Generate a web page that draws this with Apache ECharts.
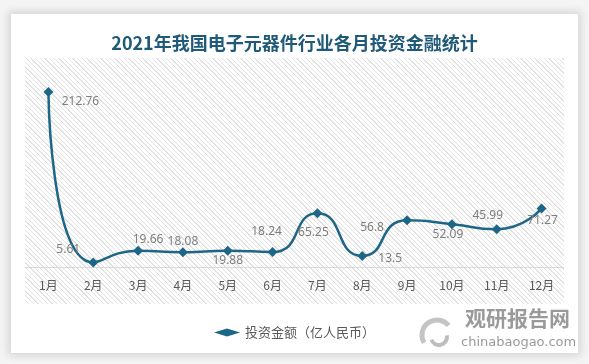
<!DOCTYPE html>
<html><head><meta charset="utf-8">
<script src="https://cdn.jsdelivr.net/npm/echarts@6/dist/echarts.min.js"></script>
<style>
html,body{margin:0;padding:0;background:#fff;}
#wrap{position:relative;width:589px;height:364px;overflow:hidden;background:#f4f4f4;}
#card{position:absolute;left:11px;top:14px;width:567px;height:339px;background:#fff;box-shadow:0 0 8px 3px rgba(0,0,0,0.12);}
#hatch{position:absolute;left:25px;top:58px;width:539px;height:246px;
background:repeating-linear-gradient(45deg,#ffffff 0px,#ffffff 2.4px,#e2e2e2 2.4px,#e2e2e2 3.3px);}
#chart{position:absolute;left:0;top:0;width:589px;height:364px;}
</style></head>
<body><div id="wrap"><div id="card"></div><div id="hatch"></div><div id="chart"></div></div>
<script>
var categories=['1月','2月','3月','4月','5月','6月','7月','8月','9月','10月','11月','12月'];
var values=[212.76,5.61,19.66,18.08,19.88,18.24,65.25,13.5,56.8,52.09,45.99,71.27];
var labelOffsets=[[32,10],[-25,-13],[10,-11],[0,-11],[0,10],[-6,-20],[-4,19],[28,3],[-35,7],[-4,10],[-9,-14],[1,12]];
var seriesName='投资金额（亿人民币）';
var titleText='2021年我国电子元器件行业各月投资金融统计';

var data=values.map(function(v,i){
  return {value:v,label:{offset:labelOffsets[i]}};
});
var chart=echarts.init(document.getElementById('chart'),null,{renderer:'canvas'});
chart.setOption({
  animation:false,
  backgroundColor:'transparent',
  title:{text:titleText,left:'center',top:29,textStyle:{fontFamily:'Noto Sans CJK SC',fontSize:18,fontWeight:'bold',color:'#1f5a78'}},
  grid:{left:26,right:25,top:61.4,bottom:97},
  legend:{bottom:20,left:'center',itemWidth:26,itemHeight:8,
    textStyle:{fontFamily:'Noto Sans CJK SC',fontSize:13,color:'#595959'},
    data:[{name:seriesName,icon:'diamond'}]},
  xAxis:{type:'category',data:categories,boundaryGap:true,
    axisLine:{lineStyle:{color:'#d9d9d9',width:1}},axisTick:{show:false},
    axisLabel:{color:'#595959',fontSize:12,margin:12,fontFamily:'Noto Sans CJK SC'}},
  yAxis:{type:'value',min:0,max:250,show:false,splitLine:{show:false}},
  series:[{name:seriesName,type:'line',smooth:0.6,data:data,
    symbol:'diamond',symbolSize:10,
    lineStyle:{color:'#1d6687',width:2.5},
    itemStyle:{color:'#1d6687'},
    label:{show:true,position:'inside',color:'#7f7f7f',fontSize:12,fontFamily:'Noto Sans'}
  }],
  graphic:[
    {type:'arc',shape:{cx:437,cy:335,r:15,startAngle:2.6,endAngle:5.6},style:{stroke:'#c4c4c4',lineWidth:5,fill:null}},
    {type:'arc',shape:{cx:439,cy:337,r:8,startAngle:-0.2,endAngle:2.8},style:{stroke:'#bdbdbd',lineWidth:4,fill:null}},
    {type:'text',left:465,top:308,style:{text:'观研报告网',font:'bold 21px "Noto Sans CJK SC"',fill:'#9a9a9a'}},
    {type:'text',left:461,top:336,style:{text:'chinabaogao.com',font:'13px "DejaVu Sans"',fill:'#9a9a9a'}}
  ]
});
</script></body></html>
